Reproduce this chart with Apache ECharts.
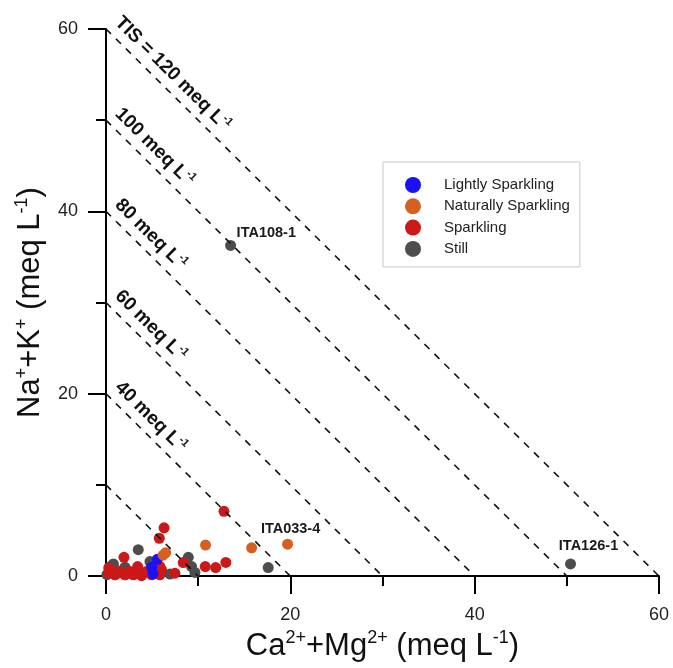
<!DOCTYPE html>
<html>
<head>
<meta charset="utf-8">
<script src="https://cdn.jsdelivr.net/npm/echarts@6/dist/echarts.min.js"></script>
<style>html,body{margin:0;padding:0;background:#fff;}#c{width:673px;height:668px;}</style>
</head>
<body>
<div id="c"></div>
<script>
// ---- data ----
const seriesNames = ['Lightly Sparkling', 'Naturally Sparkling', 'Sparkling', 'Still'];
const lightlyPoints = [[5.57, 1.84], [4.95, 0.97], [5.1, 0.25]];
const naturallyPoints = [[6.2, 2.3], [6.47, 2.56], [10.8, 3.4], [15.8, 3.1], [19.7, 3.5]];
const sparklingPoints = [
  [12.8, 7.1], [6.3, 5.3], [5.78, 4.15], [1.95, 2.06], [8.38, 1.48], [3.43, 1.05],
  [5.85, 1.05], [10.77, 1.05], [11.9, 0.94], [13.0, 1.5], [7.48, 0.32],
  [0.25, 0.32], [0.62, 0.61], [0.98, 0.14], [1.52, 0.5], [2.06, 0.14], [2.6, 0.5],
  [2.96, 0.14], [3.5, 0.61], [3.86, 0.04], [4.4, 0.5], [4.95, 0.14], [5.49, 0.61],
  [5.85, 0.14], [6.03, 0.68], [0.3, 0.9], [1.2, 0.3], [2.3, 0.4], [3.2, 0.3],
  [4.0, 0.3], [5.9, 0.4]
];
const stillPoints = [
  [0.1, 0.15], [0.4, 1.0], [0.8, 1.33], [1.0, 0.7], [2.06, 0.97], [3.5, 2.9],
  [4.77, 1.59], [8.93, 2.06], [9.29, 1.05], [9.65, 0.4], [6.94, 0.22], [17.6, 0.94],
  [13.52, 36.26], [50.4, 1.33]
];
const pointLabels = [
  { series: 'Still', index: 12, text: 'ITA108-1' },
  { series: 'Still', index: 13, text: 'ITA126-1' },
  { series: 'Naturally Sparkling', index: 4, text: 'ITA033-4' }
];
const tisValues = [20, 40, 60, 80, 100, 120];
const tisLabels = ['', '40 meq L', '60 meq L', '80 meq L', '100 meq L', 'TIS = 120 meq L'];
const axisTicks = { min: 0, max: 60, interval: 20 };

// ---- styles ----
const colors = {
  'Lightly Sparkling': '#1a12f2',
  'Naturally Sparkling': '#d5601f',
  'Sparkling': '#cc1818',
  'Still': '#4d4d4d'
};
const labelStyles = {
  'ITA108-1': { position: 'right', distance: 0.5, offset: [0, -12] },
  'ITA126-1': { position: 'top', distance: 5, offset: [18, 0] },
  'ITA033-4': { position: 'top', distance: 2.5, offset: [3, 0] }
};
const pointsBySeries = {
  'Lightly Sparkling': lightlyPoints,
  'Naturally Sparkling': naturallyPoints,
  'Sparkling': sparklingPoints,
  'Still': stillPoints
};

function buildData(name) {
  return pointsBySeries[name].map((p, i) => {
    const lab = pointLabels.find(l => l.series === name && l.index === i);
    if (!lab) return p;
    const st = labelStyles[lab.text];
    return {
      value: p,
      label: {
        show: true, formatter: lab.text, position: st.position, distance: st.distance,
        offset: st.offset, fontFamily: 'Arial, Liberation Sans', fontWeight: 'bold',
        fontSize: 14.5, lineHeight: 14, color: '#1a1a1a'
      }
    };
  });
}

const drawOrder = ['Still', 'Sparkling', 'Lightly Sparkling', 'Naturally Sparkling'];
const scatterSeries = drawOrder.map(name => ({
  name: name,
  type: 'scatter',
  symbol: 'circle',
  symbolSize: 11,
  itemStyle: { color: colors[name], opacity: 1 },
  emphasis: { disabled: true },
  data: buildData(name),
  z: 3
}));

const supRich = {
  sup: { fontSize: 11, fontWeight: 'bold', verticalAlign: 'top', lineHeight: 12, fontFamily: 'Arial, Liberation Sans', color: '#111' }
};

const tisLine = {
  name: 'TIS',
  type: 'line',
  data: [],
  silent: true,
  z: 1,
  markLine: {
    silent: true,
    symbol: ['none', 'none'],
    animation: false,
    lineStyle: { color: '#111', width: 1.6, type: [7, 7] },
    data: tisValues.map((v, i) => [
      {
        coord: [0, v / 2],
        label: {
          show: tisLabels[i] !== '',
          position: 'insideStartTop',
          distance: [2, 4],
          formatter: tisLabels[i] + '{sup|-1}',
          fontFamily: 'Arial, Liberation Sans',
          fontWeight: 'bold',
          fontSize: 19,
          color: '#111',
          lineHeight: 22,
          rich: supRich
        }
      },
      { coord: [v / 2, 0] }
    ])
  }
};

const axisCommon = {
  type: 'value',
  min: axisTicks.min,
  max: axisTicks.max,
  interval: axisTicks.interval,
  nameLocation: 'middle',
  axisLine: { show: true, onZero: false, lineStyle: { color: '#000', width: 2 } },
  axisTick: { show: true, length: 18, lineStyle: { color: '#000', width: 2 } },
  minorTick: { show: true, splitNumber: 2, length: 10, lineStyle: { color: '#000', width: 2 } },
  splitLine: { show: false },
  axisLabel: { fontFamily: 'Arial, Liberation Sans', fontSize: 18, color: '#222' }
};

const nameRich = {
  sup: { fontSize: 18, verticalAlign: 'top', lineHeight: 17, fontFamily: 'Arial, Liberation Sans', color: '#111' }
};

const chart = echarts.init(document.getElementById('c'), null, { renderer: 'canvas' });
chart.setOption({
  animation: false,
  backgroundColor: '#fff',
  grid: { left: 106, right: 14, top: 29, bottom: 85, containLabel: false },
  xAxis: Object.assign({}, axisCommon, {
    name: 'Ca{sup|2+}+Mg{sup|2+} (meq L{sup|-1})',
    nameGap: 51,
    nameTextStyle: { fontFamily: 'Arial, Liberation Sans', fontSize: 31, color: '#111', lineHeight: 34, rich: nameRich },
    axisLabel: Object.assign({}, axisCommon.axisLabel, { margin: 30 })
  }),
  yAxis: Object.assign({}, axisCommon, {
    name: 'Na{sup|+}+K{sup|+} (meq L{sup|-1})',
    nameGap: 57,
    nameRotate: 90,
    nameTextStyle: { fontFamily: 'Arial, Liberation Sans', fontSize: 31, color: '#111', lineHeight: 34, rich: nameRich },
    axisLabel: Object.assign({}, axisCommon.axisLabel, { margin: 28 })
  }),
  legend: {
    data: seriesNames,
    orient: 'vertical',
    left: 383,
    top: 162,
    padding: [15, 10, 10, 22],
    itemWidth: 16,
    itemHeight: 16,
    itemGap: 5.3,
    icon: 'circle',
    borderColor: '#c8c8c8',
    borderWidth: 1,
    backgroundColor: '#fff',
    selectedMode: false,
    textStyle: { fontFamily: 'Arial, Liberation Sans', fontSize: 15, color: '#222', padding: [0, 0, 0, 18] }
  },
  series: [tisLine].concat(scatterSeries)
});
</script>
</body>
</html>
